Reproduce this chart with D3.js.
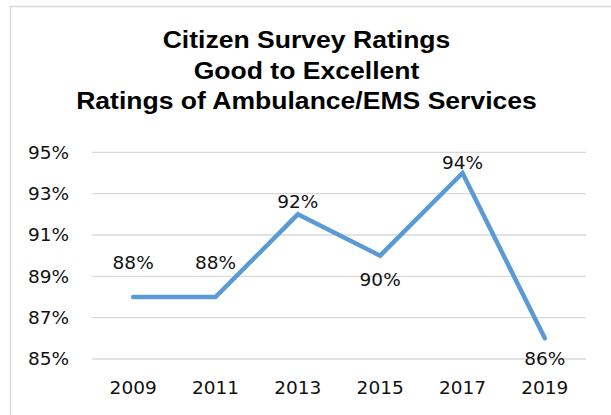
<!DOCTYPE html>
<html>
<head>
<meta charset="utf-8">
<script src="https://cdn.jsdelivr.net/npm/d3@7"></script>
<style>
  html, body { margin: 0; padding: 0; background: #fff; }
  svg { display: block; }
</style>
</head>
<body>
<svg id="chart" width="611" height="415"></svg>
<script>
// Survey results: share of residents rating Ambulance/EMS services good to excellent
const titleLines = ["Citizen Survey Ratings", "Good to Excellent", "Ratings of Ambulance/EMS Services"];
const years = ["2009", "2011", "2013", "2015", "2017", "2019"];
const ratings = [88, 88, 92, 90, 94, 86];
const yTicks = [85, 87, 89, 91, 93, 95];

// label placement relative to each point (px, negative = above)
const labelDy = [-28, -28, -6, 24, -4, 20];

const svg = d3.select("#chart");

// chart frame (runs off the right and bottom edges)
svg.append("rect")
  .attr("x", 10.5).attr("y", 6.5)
  .attr("width", 700).attr("height", 500)
  .attr("fill", "#fff")
  .attr("stroke", "#d9d9d9").attr("stroke-width", 1.5);

// title
const title = svg.append("g");
const titleY = [47.5, 78.5, 109];
titleLines.forEach((t, i) => {
  title.append("text")
    .attr("transform", `translate(306.5,${titleY[i]}) scale(1.13,1)`)
    .attr("text-anchor", "middle")
    .attr("font-family", "'Liberation Sans', Arial, sans-serif")
    .attr("font-weight", "bold")
    .attr("font-size", 23.5)
    .attr("fill", "#000")
    .text(t);
});

const x = d3.scaleBand().domain(years).range([92, 586]);
const y = d3.scaleLinear().domain([85, 95]).range([359, 152.3]);
const cx = d => x(d) + x.bandwidth() / 2;

// horizontal gridlines
svg.append("g")
  .selectAll("line")
  .data(yTicks)
  .join("line")
  .attr("x1", 92).attr("x2", 586)
  .attr("y1", d => y(d)).attr("y2", d => y(d))
  .attr("stroke", "#d9d9d9").attr("stroke-width", 1.3);

const labelFont = "'DejaVu Sans', sans-serif";

// y axis labels
const yAxis = svg.append("g")
  .attr("transform", "translate(92,0)")
  .call(d3.axisLeft(y).tickValues(yTicks).tickFormat(d => d + "%").tickSize(0).tickPadding(23));
yAxis.select(".domain").remove();
yAxis.selectAll("text")
  .attr("font-family", labelFont).attr("font-size", 18.5).attr("fill", "#111");

// x axis labels
const xAxis = svg.append("g")
  .attr("transform", "translate(0,359)")
  .call(d3.axisBottom(x).tickSize(0).tickPadding(22));
xAxis.select(".domain").remove();
xAxis.selectAll("text")
  .attr("font-family", labelFont).attr("font-size", 18.5).attr("fill", "#111");

// rating line
const line = d3.line()
  .x((d, i) => cx(years[i]))
  .y(d => y(d));
svg.append("path")
  .datum(ratings)
  .attr("d", line)
  .attr("fill", "none")
  .attr("stroke", "#5b9bd5")
  .attr("stroke-width", 4.5)
  .attr("stroke-linecap", "round")
  .attr("stroke-linejoin", "miter");

// value labels
svg.append("g")
  .selectAll("text")
  .data(ratings)
  .join("text")
  .attr("x", (d, i) => cx(years[i]))
  .attr("y", (d, i) => y(d) + labelDy[i])
  .attr("dy", (d, i) => labelDy[i] > 0 ? "0.35em" : "0")
  .attr("text-anchor", "middle")
  .attr("font-family", labelFont).attr("font-size", 18.5).attr("fill", "#111")
  .text(d => d + "%");
</script>
</body>
</html>
